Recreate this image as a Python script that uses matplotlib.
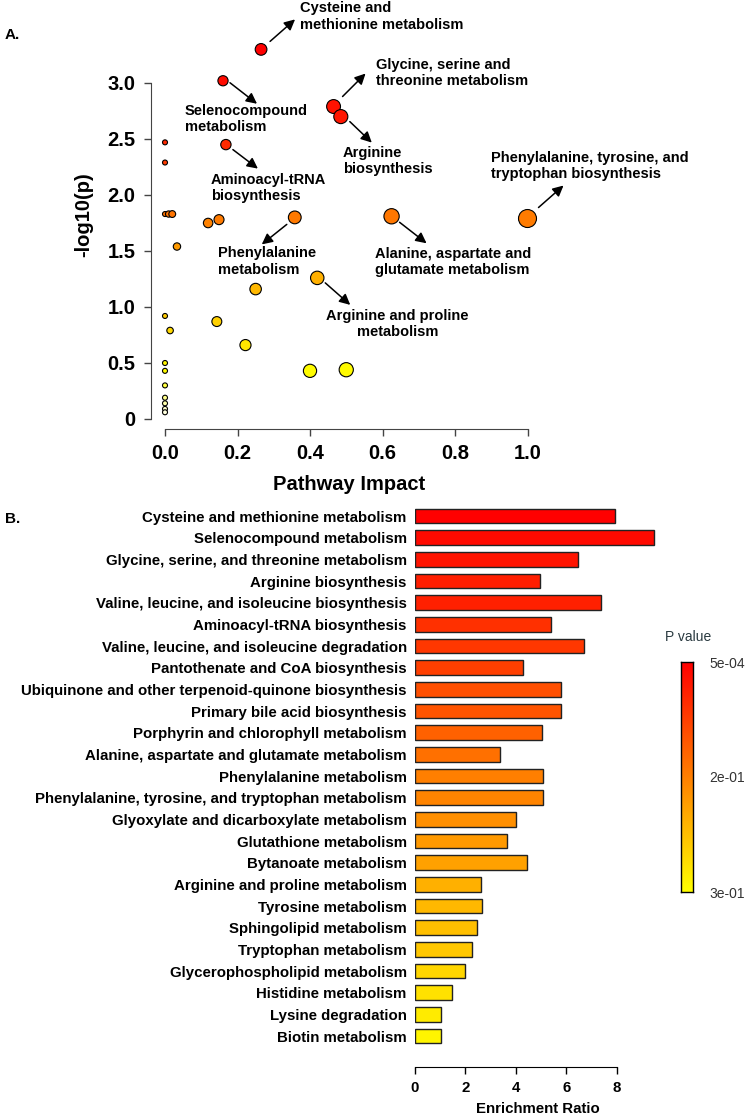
import matplotlib
matplotlib.use("Agg")
import matplotlib.pyplot as plt
import matplotlib.transforms as mtransforms
from matplotlib.colors import LinearSegmentedColormap, Normalize
import numpy as np

plt.rcParams['font.family'] = ['Liberation Sans', 'DejaVu Sans']

# ---------------- Panel A data ----------------
impact = [0.265, 0.16, 0.465, 0.485, 0.168, 0.0, 0.0, 0.0, 0.01, 0.02,
          0.119, 0.149, 0.358, 0.625, 1.0, 0.033, 0.42, 0.25, 0.0, 0.014,
          0.143, 0.222, 0.40, 0.50, 0.0, 0.0, 0.0, 0.0, 0.0, 0.0, 0.0]
neglogp = [3.30, 3.02, 2.79, 2.70, 2.45, 2.47, 2.29, 1.83, 1.83, 1.83,
           1.75, 1.78, 1.80, 1.81, 1.79, 1.54, 1.26, 1.16, 0.92, 0.79,
           0.87, 0.66, 0.43, 0.44, 0.50, 0.43, 0.30, 0.19, 0.14, 0.09, 0.06]
labels_A = {
    0: "Cysteine and\nmethionine metabolism",
    1: "Selenocompound\nmetabolism",
    2: "Glycine, serine and\nthreonine metabolism",
    3: "Arginine\nbiosynthesis",
    4: "Aminoacyl-tRNA\nbiosynthesis",
    14: "Phenylalanine, tyrosine, and\ntryptophan biosynthesis",
    12: "Phenylalanine\nmetabolism",
    13: "Alanine, aspartate and\nglutamate metabolism",
    16: "Arginine and proline\nmetabolism",
}
x_ticks_A = [0.0, 0.2, 0.4, 0.6, 0.8, 1.0]
x_ticklabels_A = ["0.0", "0.2", "0.4", "0.6", "0.8", "1.0"]
y_ticks_A = [0, 0.5, 1.0, 1.5, 2.0, 2.5, 3.0]
y_ticklabels_A = ["0", "0.5", "1.0", "1.5", "2.0", "2.5", "3.0"]

# ---------------- Panel B data ----------------
pathways = [
    "Cysteine and methionine metabolism",
    "Selenocompound metabolism",
    "Glycine, serine, and threonine metabolism",
    "Arginine biosynthesis",
    "Valine, leucine, and isoleucine biosynthesis",
    "Aminoacyl-tRNA biosynthesis",
    "Valine, leucine, and isoleucine degradation",
    "Pantothenate and CoA biosynthesis",
    "Ubiquinone and other terpenoid-quinone biosynthesis",
    "Primary bile acid biosynthesis",
    "Porphyrin and chlorophyll metabolism",
    "Alanine, aspartate and glutamate metabolism",
    "Phenylalanine metabolism",
    "Phenylalanine, tyrosine, and tryptophan metabolism",
    "Glyoxylate and dicarboxylate metabolism",
    "Glutathione metabolism",
    "Bytanoate metabolism",
    "Arginine and proline metabolism",
    "Tyrosine metabolism",
    "Sphingolipid metabolism",
    "Tryptophan metabolism",
    "Glycerophospholipid metabolism",
    "Histidine metabolism",
    "Lysine degradation",
    "Biotin metabolism",
]
enrichment = [7.95, 9.48, 6.47, 4.96, 7.40, 5.40, 6.70, 4.30, 5.80, 5.80,
              5.05, 3.37, 5.09, 5.09, 4.00, 3.65, 4.44, 2.62, 2.67, 2.45,
              2.28, 2.00, 1.47, 1.02, 1.02]
pvals = [0.0005, 0.0125, 0.0245, 0.036, 0.039, 0.057, 0.066, 0.075, 0.093, 0.099,
         0.114, 0.132, 0.150, 0.156, 0.168, 0.180, 0.189, 0.207, 0.216, 0.225,
         0.234, 0.252, 0.264, 0.276, 0.288]
x_ticks_B = [0, 2, 4, 6, 8]
cbar_ticklabels = ["5e-04", "2e-01", "3e-01"]

W, H = 749, 1114
fig = plt.figure(figsize=(W / 100, H / 100), dpi=100)


def rect(l, t, r, b):
    return [l / W, 1 - b / H, (r - l) / W, (b - t) / H]


# ---------------- Panel A ----------------
axA = fig.add_axes(rect(151, 0, 600, 429))
axA.set_xlim((151 - 165) / 362.5, (600 - 165) / 362.5)
axA.set_ylim((419 - 429) / 112, 419 / 112)
axA.patch.set_alpha(0)

cmapA = LinearSegmentedColormap.from_list(
    "heatA",
    [(0.0, "#FFFFFF"), (0.12, "#FFFF00"), (0.3, "#FFC400"), (0.5, "#FF9200"),
     (0.6, "#FF5A00"), (0.8, "#FF1800"), (1.0, "#FF0000")])
normA = Normalize(0, 3.3)
diam = 5 + 13 * np.sqrt(np.array(impact))
sizes = (diam * 0.72) ** 2
axA.scatter(impact, neglogp, s=sizes, c=[cmapA(normA(v)) for v in neglogp],
            edgecolors="black", linewidths=0.8, zorder=3, clip_on=False)

for side in ["top", "right"]:
    axA.spines[side].set_visible(False)
axA.spines["left"].set_bounds(0, 3.0)
axA.spines["bottom"].set_bounds(0, 1.0)
axA.spines["left"].set_color("#444444")
axA.spines["bottom"].set_color("#444444")
axA.set_xticks(x_ticks_A)
axA.set_xticklabels(x_ticklabels_A, fontsize=14.5, fontweight="bold")
axA.set_yticks(y_ticks_A)
axA.set_yticklabels(y_ticklabels_A, fontsize=14.5, fontweight="bold")
axA.tick_params(axis="both", length=5, width=1, color="#444444", pad=6)
axA.set_xlabel("Pathway Impact", fontsize=14.5, fontweight="bold")
axA.xaxis.set_label_coords((349 - 151) / 449, -46 / 429)
axA.set_ylabel("-log10(p)", fontsize=14.5, fontweight="bold", labelpad=10)


def off(dx, dy):
    return mtransforms.offset_copy(axA.transData, fig=fig, x=dx, y=-dy, units="dots")


# (text dx, text dy, ha, arrow start dx, dy, arrow end dx, dy) in image pixels
ann_layout = {
    0: (39, -48, "left", 9, -8, 34, -30),
    1: (-38, 23, "left", 7, 2, 34, 23),
    2: (42, -49, "left", 9, -10, 32, -33),
    3: (2, 29, "left", 9, 5, 31, 26),
    4: (-15, 28, "left", 7, 5, 32, 24),
    14: (-37, -68, "left", 11, -11, 36, -33),
    12: (-77, 29, "left", -8, 7, -33, 27),
    13: (-17, 31, "left", 8, 6, 35, 27),
    16: (80, 31, "center", 8, 5, 33, 27),
}
for i, txt in labels_A.items():
    tx, ty, ha, sx, sy, ex, ey = ann_layout[i]
    p = (impact[i], neglogp[i])
    axA.annotate(txt, xy=p, xycoords=off(tx, ty), ha=ha, va="top",
                 fontsize=10.5, fontweight="bold", linespacing=1.2,
                 multialignment=ha)
    axA.annotate("", xy=p, xycoords=off(ex, ey), xytext=p, textcoords=off(sx, sy),
                 arrowprops=dict(arrowstyle="-|>", color="black", lw=1.1,
                                 mutation_scale=16, shrinkA=0, shrinkB=0))

fig.text(5 / W, 1 - 35 / H, "A.", fontsize=11, fontweight="bold", va="center")
fig.text(5 / W, 1 - 519 / H, "B.", fontsize=11, fontweight="bold", va="center")

# ---------------- Panel B ----------------
axB = fig.add_axes(rect(415, 503, 660, 1067))
axB.patch.set_alpha(0)
cmapB = LinearSegmentedColormap.from_list("ry", ["#FF0000", "#FFFF00"])
normB = Normalize(min(pvals), 0.3)
ypos = np.arange(len(pathways))
axB.barh(ypos, enrichment, height=0.68, color=[cmapB(normB(p)) for p in pvals],
         edgecolor="#222222", linewidth=1.0)
axB.set_ylim((1067 - 516) / 21.67, (503 - 516) / 21.67)
axB.set_xlim(0, (660 - 415) / 25.2)
for side in ["top", "right", "left"]:
    axB.spines[side].set_visible(False)
axB.spines["bottom"].set_bounds(0, 8)
axB.set_yticks(ypos)
axB.set_yticklabels(pathways, fontsize=10.8, fontweight="bold")
axB.tick_params(axis="y", length=0, pad=6)
axB.set_xticks(x_ticks_B)
axB.set_xticklabels([str(v) for v in x_ticks_B], fontsize=10.8, fontweight="bold")
axB.tick_params(axis="x", length=5, width=1, pad=5)
axB.set_xlabel("Enrichment Ratio", fontsize=10.8, fontweight="bold", labelpad=5)

# colorbar
axC = fig.add_axes(rect(681, 662, 693, 892))
grad = np.linspace(0, 1, 256).reshape(-1, 1)
axC.imshow(grad, aspect="auto", cmap=cmapB, extent=[0, 1, 1, 0])
axC.set_xticks([])
axC.set_yticks([0, 0.5, 1])
axC.yaxis.tick_right()
axC.set_yticklabels(cbar_ticklabels, fontsize=10, color="#333333")
axC.tick_params(axis="y", length=0, pad=12)
for s in axC.spines.values():
    s.set_linewidth(1.0)
fig.text(688 / W, 1 - 637 / H, "P value", fontsize=10, color="#2a3a40",
         ha="center", va="center")

fig.savefig("out.png", dpi=100)
